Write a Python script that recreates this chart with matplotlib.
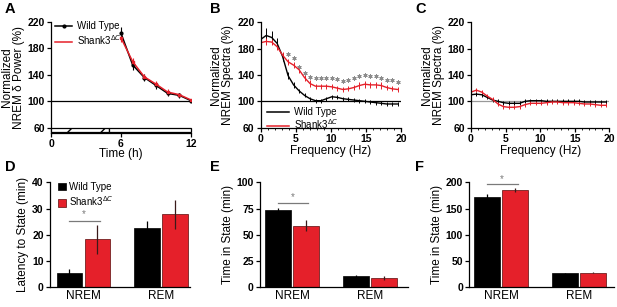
import numpy as np
import matplotlib
matplotlib.use("Agg")
import matplotlib.pyplot as plt
from matplotlib.patches import Rectangle
from matplotlib.lines import Line2D

plt.rcParams['font.family'] = ['Liberation Sans', 'DejaVu Sans']
plt.rcParams['mathtext.fontset'] = 'custom'
plt.rcParams['mathtext.rm'] = 'Liberation Sans'

RED = '#e5202a'
GREY = '#7a7a7a'
KO_LABEL = r'Shank3$^{\Delta C}$'

# A: NREM delta power over recovery hours
hours = [6, 7, 8, 9, 10, 11, 12]
wt_delta = [203, 155, 136, 124, 112, 109, 101]
wt_delta_err = [9, 7, 6, 5, 4, 4, 3]
ko_delta = [196, 160, 137, 126, 114, 110, 102]
ko_delta_err = [6, 5, 4, 4, 4, 3, 3]

# B / C: spectra, bins of 0.78125 Hz
freqs = [0.78125 * i for i in range(26)]
wt_spec_b = [194, 200, 197, 188, 168, 139, 125, 116, 109, 104, 101, 101, 104,
             107, 106, 104, 103, 102, 101, 100, 99, 98, 97, 96, 96, 96]
wt_spec_b_err = [10, 12, 10, 8, 6, 5, 4, 3, 3, 3, 3, 3, 3, 3, 3, 3, 3, 3, 3,
                 3, 3, 3, 3, 3, 3, 3]
ko_spec_b = [189, 191, 190, 183, 170, 160, 155, 148, 136, 127, 123, 123, 123,
             122, 120, 118, 119, 121, 124, 126, 125, 125, 124, 121, 119, 118]
ko_spec_b_err = [5, 5, 5, 5, 5, 5, 5, 5, 5, 5, 4, 4, 4, 4, 4, 4, 4, 4, 5, 5,
                 5, 5, 5, 4, 4, 4]
star_freqs = freqs[5:]
star_y = [172, 166, 152, 143, 137, 136, 136, 136, 136, 134, 131, 132, 135,
          139, 140, 139, 138, 136, 133, 132, 129]

wt_spec_c = [110, 111, 110, 106, 102, 100, 98, 97, 97, 97, 100, 101, 101, 101,
             100, 100, 100, 100, 100, 100, 100, 99, 99, 99, 99, 99]
ko_spec_c = [114, 117, 114, 108, 103, 96, 92, 91, 91, 92, 95, 97, 97, 97, 98,
             99, 99, 98, 98, 98, 97, 96, 96, 95, 94, 94]
spec_c_err = [3] * 26

# D-F: bar panels
states = ['NREM', 'REM']
wt_latency = [5.3, 22.5]
wt_latency_err = [1.6, 2.8]
ko_latency = [18.3, 27.9]
ko_latency_err = [5.5, 5.5]

wt_time = [73.7, 10.5]
wt_time_err = [2.3, 1.6]
ko_time = [58.7, 8.8]
ko_time_err = [5.0, 2.0]

wt_total = [172.5, 26.7]
wt_total_err = [5.0, 1.2]
ko_total = [185.0, 28.0]
ko_total_err = [3.5, 1.5]

fig = plt.figure(figsize=(6.17, 3.07), dpi=100)
W, H = 617.0, 307.0


def add_ax(l, r, t, b):
    return fig.add_axes([l / W, 1 - b / H, (r - l) / W, (b - t) / H])


def style(ax):
    for s in ['top', 'right']:
        ax.spines[s].set_visible(False)
    for s in ['left', 'bottom']:
        ax.spines[s].set_linewidth(0.9)
    ax.tick_params(direction='out', length=3, width=0.9, pad=1.5, labelsize=7.5)
    for lab in ax.get_yticklabels():
        lab.set_fontweight('bold')


# ---- A
axA = add_ax(51, 191, 22, 132.7)
axA.set_xlim(0, 12)
axA.set_ylim(52.5, 220)
axA.axhline(100, color='black', lw=0.9)
axA.add_patch(Rectangle((0, 53), 5, 7, facecolor='white', edgecolor='black',
                        hatch='/', lw=0.9, zorder=3, clip_on=False))
axA.add_patch(Rectangle((5, 53), 7, 7, facecolor='white', edgecolor='black',
                        lw=0.9, zorder=3, clip_on=False))
axA.errorbar(hours, wt_delta, yerr=wt_delta_err, color='black', lw=1.1,
             marker='o', ms=2, elinewidth=0.8, capsize=0)
axA.errorbar(hours, ko_delta, yerr=ko_delta_err, color=RED, lw=1.1,
             marker='s', ms=2, elinewidth=0.8, capsize=0)
axA.set_xticks([0, 6, 12])
axA.set_yticks([60, 100, 140, 180, 220])
axA.set_xlabel('Time (h)', fontsize=8.5, labelpad=-1)
axA.set_ylabel('Normalized\nNREM δ Power (%)', fontsize=8.5, labelpad=2,
               linespacing=1.0)
style(axA)
for lab in axA.get_xticklabels():
    lab.set_fontweight('bold')
handles_a = [Line2D([], [], color='black', lw=1.1, marker='o', ms=2),
             Line2D([], [], color=RED, lw=1.1)]
axA.legend(handles_a, ['Wild Type', KO_LABEL], loc='upper left',
           bbox_to_anchor=(0.0, 1.04), frameon=False, fontsize=7,
           handlelength=1.8, handletextpad=0.5, borderaxespad=0,
           labelspacing=0.2)


# ---- B and C
def spectra(ax, wt, wt_err, ko, ko_err, base_color):
    ax.set_xlim(0, 20)
    ax.set_ylim(60, 220)
    ax.axhline(100, color=base_color, lw=0.9)
    ax.errorbar(freqs, wt, yerr=wt_err, color='black', lw=1.0,
                elinewidth=0.7, capsize=0)
    ax.errorbar(freqs, ko, yerr=ko_err, color=RED, lw=1.0,
                elinewidth=0.7, capsize=0)
    ax.set_xticks([0, 5, 10, 15, 20])
    ax.set_xticks(np.arange(0, 21, 1), minor=True)
    ax.tick_params(which='minor', length=1.5, width=0.6)
    ax.set_yticks([60, 100, 140, 180, 220])
    ax.set_xlabel('Frequency (Hz)', fontsize=8.5, labelpad=1)
    ax.set_ylabel('Normalized\nNREM Spectra (%)', fontsize=8.5, labelpad=2,
                  linespacing=1.0)
    style(ax)
    for lab in ax.get_xticklabels():
        lab.set_fontweight('bold')


axB = add_ax(260.7, 401, 22.3, 127.7)
spectra(axB, wt_spec_b, wt_spec_b_err, ko_spec_b, ko_spec_b_err, 'black')
axB.plot(star_freqs, star_y, linestyle='none', marker=(6, 2, 0), ms=3,
         mew=0.7, color='#8c8c8c')
handles_b = [Line2D([], [], color='black', lw=1.1),
             Line2D([], [], color=RED, lw=1.1)]
axB.legend(handles_b, ['Wild Type', KO_LABEL], loc='lower left',
           bbox_to_anchor=(0.02, -0.07), frameon=False, fontsize=7,
           handlelength=2.2, handletextpad=0.5, borderaxespad=0,
           labelspacing=0.05)

axC = add_ax(471, 609.3, 22.3, 127.7)
spectra(axC, wt_spec_c, spec_c_err, ko_spec_c, spec_c_err, '#999999')


# ---- D, E, F
def bars(ax, wt, wt_err, ko, ko_err, xlim, ylim, yticks, ylabel, sig_y, star_y_pos):
    x = np.arange(len(states))
    w = 0.33
    ax.bar(x - 0.18, wt, w, color='black', edgecolor='black', lw=0.5,
           label='Wild Type')
    ax.bar(x + 0.18, ko, w, color=RED, edgecolor='#5a0a0a', lw=0.5,
           label=KO_LABEL)
    ax.errorbar(x - 0.18, wt, yerr=wt_err, fmt='none', ecolor='black',
                elinewidth=0.9, capsize=0)
    ax.errorbar(x + 0.18, ko, yerr=ko_err, fmt='none', ecolor='#3a1a1a',
                elinewidth=0.9, capsize=0)
    ax.plot([x[0] - 0.18, x[0] + 0.21], [sig_y, sig_y], color=GREY, lw=0.9,
            clip_on=False)
    ax.text(x[0] + 0.01, star_y_pos, '*', ha='center', va='center',
            fontsize=7, color=GREY, clip_on=False)
    ax.set_xlim(*xlim)
    ax.set_ylim(*ylim)
    ax.set_yticks(yticks)
    ax.set_xticks(x)
    ax.set_xticklabels(states, fontsize=8.5)
    ax.set_ylabel(ylabel, fontsize=8.5, labelpad=2)
    style(ax)
    ax.tick_params(axis='x', length=0, pad=2, labelsize=8.5)


axD = add_ax(50, 190, 182.3, 287.3)
bars(axD, wt_latency, wt_latency_err, ko_latency, ko_latency_err,
     (-0.43, 1.37), (0, 40), [0, 10, 20, 30, 40], 'Latency to State (min)',
     25.4, 27.8)
axD.legend(loc='upper left', bbox_to_anchor=(0.03, 1.04), frameon=False,
           fontsize=7, handlelength=0.8, handleheight=0.8, handletextpad=0.3,
           borderaxespad=0, labelspacing=0.25)

axE = add_ax(260, 408.3, 182.3, 287.3)
bars(axE, wt_time, wt_time_err, ko_time, ko_time_err,
     (-0.41, 1.49), (0, 100), [0, 25, 50, 75, 100], 'Time in State (min)',
     80.6, 86)

axF = add_ax(469.3, 614, 182.3, 287.3)
bars(axF, wt_total, wt_total_err, ko_total, ko_total_err,
     (-0.41, 1.45), (0, 200), [0, 50, 100, 150, 200], 'Time in State (min)',
     196, 207)

for letter, px, py in [('A', 5, 2), ('B', 210, 2), ('C', 415, 2),
                       ('D', 5, 160), ('E', 210, 160), ('F', 415, 160)]:
    fig.text(px / W, 1 - py / H, letter, fontsize=10.5, fontweight='bold',
             ha='left', va='top')

fig.savefig('out.png', dpi=100)
